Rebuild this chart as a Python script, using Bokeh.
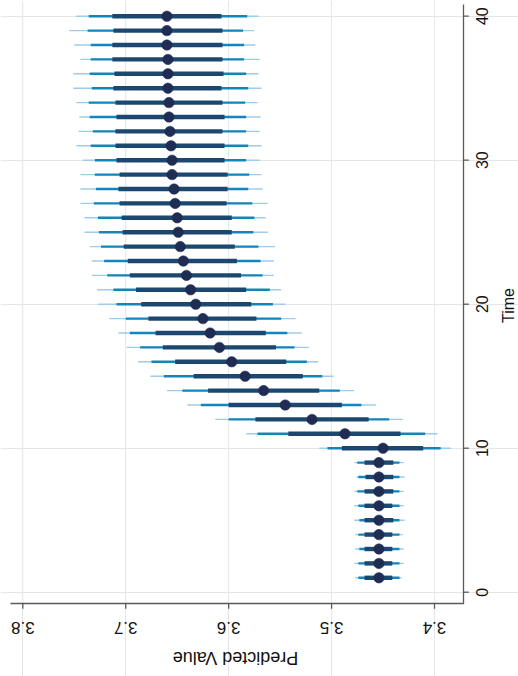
import math

from bokeh.core.properties import value
from bokeh.embed import file_html
from bokeh.models import ColumnDataSource, Range1d
from bokeh.plotting import figure
from bokeh.resources import INLINE

# Predicted value by time period with three nested interval bands
time = list(range(1, 41))

predicted = [3.454, 3.454, 3.454, 3.454, 3.454, 3.454, 3.454, 3.454, 3.454, 3.450,
             3.487, 3.519, 3.545, 3.566, 3.584, 3.597, 3.609, 3.618, 3.625, 3.632,
             3.637, 3.641, 3.644, 3.647, 3.649, 3.650, 3.652, 3.653, 3.655, 3.655,
             3.656, 3.657, 3.658, 3.658, 3.659, 3.659, 3.659, 3.660, 3.660, 3.660]

inner_lo = [3.441, 3.441, 3.441, 3.441, 3.440, 3.441, 3.440, 3.440, 3.440, 3.411,
            3.433, 3.464, 3.490, 3.512, 3.528, 3.544, 3.554, 3.564, 3.573, 3.578,
            3.583, 3.588, 3.592, 3.594, 3.597, 3.597, 3.602, 3.601, 3.601, 3.604,
            3.604, 3.606, 3.604, 3.606, 3.607, 3.605, 3.606, 3.606, 3.606, 3.607]
inner_hi = [3.468, 3.468, 3.468, 3.468, 3.468, 3.468, 3.468, 3.467, 3.468, 3.490,
            3.542, 3.574, 3.600, 3.620, 3.634, 3.652, 3.664, 3.671, 3.678, 3.685,
            3.690, 3.696, 3.698, 3.702, 3.703, 3.704, 3.706, 3.707, 3.706, 3.709,
            3.710, 3.710, 3.709, 3.710, 3.712, 3.711, 3.713, 3.713, 3.712, 3.713]

middle_lo = [3.434, 3.434, 3.434, 3.434, 3.434, 3.434, 3.434, 3.434, 3.434, 3.394,
             3.409, 3.444, 3.471, 3.492, 3.509, 3.524, 3.536, 3.543, 3.549, 3.557,
             3.560, 3.567, 3.569, 3.571, 3.576, 3.575, 3.577, 3.581, 3.580, 3.583,
             3.581, 3.583, 3.583, 3.584, 3.581, 3.583, 3.585, 3.585, 3.586, 3.582]
middle_hi = [3.474, 3.474, 3.473, 3.474, 3.473, 3.474, 3.475, 3.474, 3.475, 3.504,
             3.572, 3.600, 3.627, 3.645, 3.663, 3.675, 3.686, 3.696, 3.700, 3.709,
             3.712, 3.718, 3.721, 3.724, 3.726, 3.727, 3.731, 3.729, 3.730, 3.730,
             3.734, 3.732, 3.735, 3.736, 3.733, 3.735, 3.734, 3.734, 3.737, 3.736]

outer_lo = [3.432, 3.430, 3.430, 3.431, 3.429, 3.430, 3.430, 3.429, 3.430, 3.384,
            3.397, 3.431, 3.457, 3.478, 3.498, 3.513, 3.522, 3.529, 3.535, 3.545,
            3.549, 3.556, 3.556, 3.555, 3.562, 3.564, 3.562, 3.567, 3.568, 3.570,
            3.568, 3.570, 3.569, 3.572, 3.568, 3.571, 3.570, 3.574, 3.575, 3.571]
outer_hi = [3.477, 3.478, 3.477, 3.477, 3.478, 3.478, 3.478, 3.476, 3.478, 3.512,
            3.583, 3.613, 3.640, 3.660, 3.676, 3.688, 3.699, 3.707, 3.716, 3.727,
            3.728, 3.733, 3.733, 3.735, 3.740, 3.740, 3.744, 3.744, 3.744, 3.742,
            3.748, 3.746, 3.745, 3.748, 3.751, 3.751, 3.744, 3.750, 3.755, 3.748]

value_ticks = [3.4, 3.5, 3.6, 3.7, 3.8]
value_tick_labels = ["3.4", "3.5", "3.6", "3.7", "3.8"]
time_ticks = [0, 10, 20, 30, 40]
time_tick_labels = ["0", "10", "20", "30", "40"]

src = ColumnDataSource(dict(
    time=time, predicted=predicted,
    inner_lo=inner_lo, inner_hi=inner_hi,
    middle_lo=middle_lo, middle_hi=middle_hi,
    outer_lo=outer_lo, outer_hi=outer_hi,
))

W, H = 518, 676
FONT = "Liberation Sans"
AXIS_GREY = "#5a5a5a"
TEXT = "#111111"


# The whole graph is turned a quarter turn: values run right-to-left along the
# bottom, time runs upward along the right.  The canvas is one frame and the
# guides are laid out in canvas pixels, converted to data coordinates here.
def vx(px):
    return 3.4 + (434.0 - px) / 1029.2


def ty(py):
    return (591.7 - py) / 14.4


PLOT_LEFT, PLOT_RIGHT, PLOT_TOP, PLOT_BOTTOM = 10, 463, 4, 603
TICK_LEN = 5.3

p = figure(
    width=W, height=H,
    output_backend="svg", toolbar_location=None,
    x_range=Range1d(vx(0), vx(W)),
    y_range=Range1d(ty(H), ty(0)),
    x_axis_location=None, y_axis_location=None,
    min_border=0,
)
p.outline_line_color = None
p.background_fill_color = "white"
p.border_fill_color = "white"

# grid lines at the value ticks, inside the plot region
n_v = len(value_ticks)
p.segment(x0=value_ticks, x1=value_ticks,
          y0=[ty(PLOT_BOTTOM)] * n_v, y1=[ty(PLOT_TOP)] * n_v,
          line_color="#e4ecf1", line_width=1)

# interval bands, widest first, then the point estimates on top
p.segment(x0="outer_lo", x1="outer_hi", y0="time", y1="time", source=src,
          line_color="#9fcbea", line_width=1.4, line_cap="butt")
p.segment(x0="middle_lo", x1="middle_hi", y0="time", y1="time", source=src,
          line_color="#1285bd", line_width=2.4, line_cap="butt")
p.segment(x0="inner_lo", x1="inner_hi", y0="time", y1="time", source=src,
          line_color="#1c4870", line_width=4.4, line_cap="butt")
p.scatter(x="predicted", y="time", source=src, size=10.5,
          fill_color="#1f2d55", line_color="#1f2d55", line_width=0.5)

# value axis along the bottom
p.segment(x0=[vx(PLOT_LEFT)], x1=[vx(PLOT_RIGHT + 0.6)],
          y0=[ty(PLOT_BOTTOM)], y1=[ty(PLOT_BOTTOM)],
          line_color=AXIS_GREY, line_width=1.3)
p.segment(x0=value_ticks, x1=value_ticks,
          y0=[ty(PLOT_BOTTOM)] * n_v, y1=[ty(PLOT_BOTTOM + TICK_LEN)] * n_v,
          line_color=AXIS_GREY, line_width=1.3)
p.text(x=value_ticks, y=[ty(627)] * n_v, text=value_tick_labels,
       angle=math.pi, text_align="center", text_baseline="middle",
       text_font=value(FONT), text_font_size="17px", text_color=TEXT)
p.text(x=[vx(235)], y=[ty(657)], text=["Predicted Value"],
       angle=math.pi, text_align="center", text_baseline="middle",
       text_font=value(FONT), text_font_size="18px", text_color=TEXT)

# time axis along the right
n_t = len(time_ticks)
p.segment(x0=[vx(PLOT_RIGHT)], x1=[vx(PLOT_RIGHT)],
          y0=[ty(PLOT_BOTTOM)], y1=[ty(PLOT_TOP)],
          line_color=AXIS_GREY, line_width=1.3)
p.segment(x0=[vx(PLOT_RIGHT)] * n_t, x1=[vx(PLOT_RIGHT + TICK_LEN)] * n_t,
          y0=time_ticks, y1=time_ticks,
          line_color=AXIS_GREY, line_width=1.3)
p.text(x=[vx(481)] * n_t, y=time_ticks, text=time_tick_labels,
       angle=math.pi / 2, text_align="center", text_baseline="middle",
       text_font=value(FONT), text_font_size="16px", text_color=TEXT)
p.text(x=[vx(507.5)], y=[ty(305)], text=["Time"],
       angle=math.pi / 2, text_align="center", text_baseline="middle",
       text_font=value(FONT), text_font_size="16px", text_color=TEXT)

open("out.html", "w").write(file_html(p, INLINE))
